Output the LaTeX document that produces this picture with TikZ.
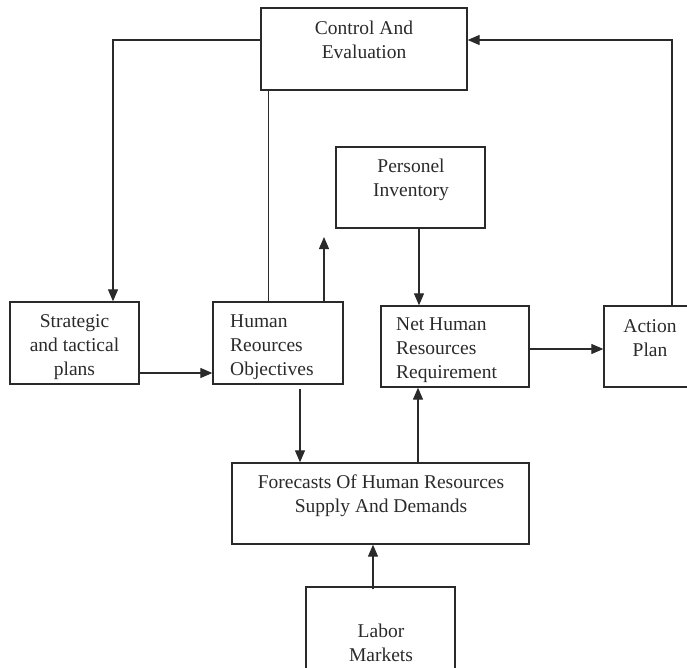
\documentclass[tikz,border=0pt]{standalone}
\usepackage{fontspec}
\setmainfont{Liberation Serif}
\usetikzlibrary{arrows.meta}
\definecolor{ink}{HTML}{2A2A2A}
\tikzset{
  box/.style={draw=ink, line width=1.3pt, rectangle, inner sep=0pt},
  txt/.style={text=ink, font=\fontsize{19.5}{24}\selectfont, inner sep=0pt},
  conn/.style={draw=ink, line width=1.2pt},
  arr/.style={conn, -{Triangle[length=12pt,width=10pt]}}
}
\begin{document}
\begin{tikzpicture}[x=1pt,y=-1pt]
\useasboundingbox (0,0) rectangle (687,668);
% boxes
\node[box, minimum width=206pt, minimum height=82pt] (ctrl) at (364,49) {};
\node[box, minimum width=149pt, minimum height=81pt] (pers) at (410.5,187.5) {};
\node[box, minimum width=129pt, minimum height=82pt] (strat) at (74.5,343) {};
\node[box, minimum width=130pt, minimum height=82pt] (hro) at (278,343) {};
\node[box, minimum width=148pt, minimum height=81pt] (net) at (455,346.5) {};
\node[box, minimum width=94pt, minimum height=81pt] (act) at (651,346.5) {};
\node[box, minimum width=297pt, minimum height=81pt] (fore) at (380.5,503.5) {};
\node[box, minimum width=149pt, minimum height=83pt] (labor) at (380.5,628.5) {};
% texts
\node[txt, align=center] (tctrl) at (364,40) {Control And\\Evaluation};
\node[txt, align=center] (tpers) at (411,180) {Personel\\Inventory};
\node[txt, align=center] (tstrat) at (74.5,347) {Strategic\\and tactical\\plans};
\node[txt, align=left, anchor=west] (thro) at (230,347) {Human\\Reources\\Objectives};
\node[txt, align=left, anchor=west] (tnet) at (396,350) {Net Human\\Resources\\Requirement};
\node[txt, align=center] (tact) at (650,338) {Action\\Plan};
\node[txt, align=center] (tfore) at (381,496) {Forecasts Of Human Resources\\Supply And Demands};
\node[txt, align=center] (tlabor) at (381,643) {Labor\\Markets};
% connectors
\coordinate (hroup) at (324,237);
\draw[arr] ([yshift=9pt]ctrl.west) -| ([xshift=38.5pt]strat.north);
\draw[arr] ([xshift=21pt]act.north) |- ([yshift=9pt]ctrl.east);
\draw[conn] ([xshift=8pt]ctrl.south west) -- ([xshift=8pt]ctrl.south west |- hro.north);
\draw[arr] (hro.north -| hroup) -- (hroup);
\draw[arr] ([xshift=8.5pt]pers.south) -- ([xshift=8.5pt]pers.south |- net.north);
\draw[arr] ([yshift=-30pt]strat.east) -- ([yshift=-30pt]strat.east -| hro.west);
\draw[arr] ([yshift=-2.5pt]net.east) -- ([yshift=-2.5pt]net.east -| act.west);
\draw[arr] ([xshift=22pt,yshift=-4pt]hro.south) -- ([xshift=22pt]hro.south |- fore.north);
\draw[arr] ([xshift=37.5pt]fore.north) -- ([xshift=37.5pt]fore.north |- net.south);
\draw[arr] ([xshift=-7.5pt,yshift=-3pt]labor.north) -- ([xshift=-7.5pt]labor.north |- fore.south);
\end{tikzpicture}
\end{document}
